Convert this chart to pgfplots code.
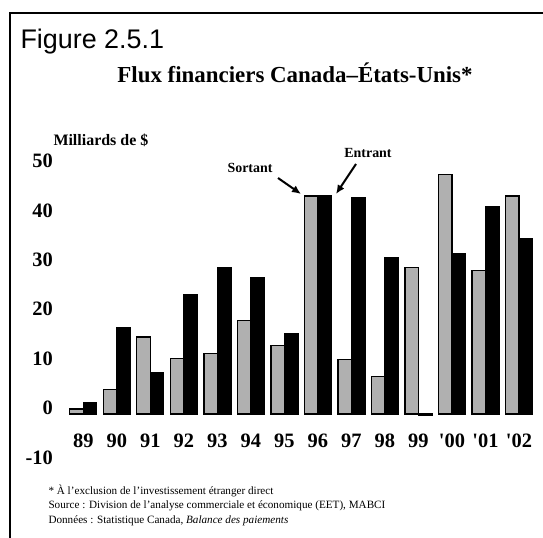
\documentclass[border=0pt]{standalone}
\usepackage{fontspec}
\setmainfont{Liberation Serif}
\newfontfamily\arialfont{Liberation Sans}
\usepackage{pgfplots}
\usepackage{pgfplotstable}
\pgfplotsset{compat=1.18}
\usetikzlibrary{arrows.meta}

\pgfplotstableread{
x s e
0 1.0 2.3
1 5.0 17.4
2 15.6 8.4
3 11.2 24.1
4 12.3 29.6
5 18.9 27.7
6 13.9 16.2
7 44.1 44.2
8 11.0 43.8
9 7.6 31.6
10 29.6 -0.3
11 48.5 32.5
12 29.0 41.9
13 44.1 35.5
}\data

\begin{document}
\begin{tikzpicture}
\useasboundingbox (0,0) rectangle (543bp,-538bp);
\draw[line width=1.5bp] (543bp,-13bp) -- (10bp,-13bp) -- (10bp,-538bp);
\begin{axis}[
  at={(66.55bp,-463.4bp)}, anchor=south west,
  scale only axis, width=469.2bp, height=306.3bp,
  xmin=-0.5, xmax=13.5, ymin=-10, ymax=52,
  axis line style={draw=none}, tick style={draw=none},
  major tick length=0pt,
  /pgf/number format/assume math mode=true,
  ytick={-10,0,10,20,30,40,50},
  xtick={0,...,13},
  xticklabels={89,90,91,92,93,94,95,96,97,98,99,\textquotesingle00,\textquotesingle01,\textquotesingle02},
  tick label style={font=\bfseries\fontsize{20.5}{20.5}\selectfont, inner sep=0pt},
  yticklabel style={anchor=east, xshift=-13.5bp, yshift=6bp},
  xticklabel style={anchor=base, yshift=16.4bp},
  ybar=0pt, bar width=13.5bp,
  clip=false,
]
\addplot[fill=gray!62, draw=black, line width=1.3bp] table[x=x,y=s]{\data};
\addplot[fill=black, draw=black, line width=1.3bp] table[x=x,y=e]{\data};
\end{axis}
\node[anchor=west, font=\arialfont\fontsize{27}{27}\selectfont] at (17bp,-42bp) {Figure 2.5.1};
\node[font=\bfseries\fontsize{23}{23}\selectfont] at (295bp,-73bp) {Flux financiers Canada–États-Unis*};
\node[anchor=west, font=\bfseries\fontsize{16}{16}\selectfont] at (50bp,-140bp) {Milliards de \$};
\node[font=\bfseries\fontsize{14}{14}\selectfont] at (250bp,-168bp) {Sortant};
\node[font=\bfseries\fontsize{14}{14}\selectfont] at (368bp,-153bp) {Entrant};
\draw[-{Latex[length=9bp,width=8bp]}, line width=2bp] (278bp,-178bp) -- (301bp,-194bp);
\draw[-{Latex[length=9bp,width=8bp]}, line width=2bp] (356bp,-164bp) -- (336bp,-194bp);
\node[anchor=west, font=\fontsize{11.2}{11.2}\selectfont] at (45bp,-491bp) {* À l’exclusion de l’investissement étranger direct};
\node[anchor=west, font=\fontsize{11.2}{11.2}\selectfont] at (45bp,-506bp) {Source : Division de l’analyse commerciale et économique (EET), MABCI};
\node[anchor=west, font=\fontsize{11.2}{11.2}\selectfont] at (45bp,-521bp) {Données : Statistique Canada, \textit{Balance des paiements}};
\end{tikzpicture}
\end{document}
